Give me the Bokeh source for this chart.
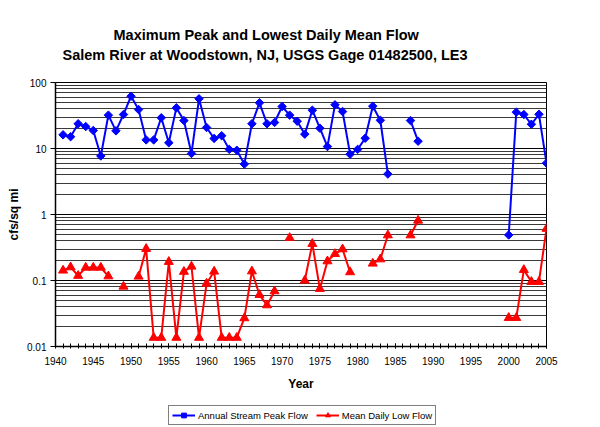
import numpy as np
from bokeh.plotting import figure
from bokeh.layouts import column
from bokeh.models import (ColumnDataSource, FixedTicker, Legend, LegendItem, Title, Range1d)
from bokeh.embed import file_html
from bokeh.resources import INLINE

N = None
years = list(range(1941, 2006))
peak_flow = [16.1, 15.1, 23.7, 21.5, 18.7, 7.7, 32, 18.5, 32.7, 62,
             38.9, 13.5, 13.5, 29.2, 12.2, 41.3, 26.5, 8.4, 56.6, 20.8,
             14.2, 15.6, 9.7, 9.4, 5.8, 23.7, 49.2, 23.7, 24.8, 43.3,
             32, 25.9, 16.5, 38, 20.3, 10.7, 45.9, 36.3, 8.2, 9.7,
             14.3, 43.8, 26.8, 4.1, N, N, 26.5, 12.9, N, N,
             N, N, N, N, N, N, N, N, N, 0.49,
             35.5, 32.7, 23.3, 33, 6.0]
low_flow = [0.142, 0.159, 0.118, 0.157, 0.157, 0.157, 0.116, N, 0.081, N,
            0.115, 0.302, 0.0136, 0.0136, 0.192, 0.0136, 0.136, 0.163, 0.0136, 0.090,
            0.137, 0.0136, 0.0136, 0.0136, 0.0269, 0.138, 0.0607, 0.0423, 0.0689, N,
            0.443, N, 0.1, 0.36, 0.0748, 0.196, 0.253, 0.298, 0.134, N,
            N, 0.181, 0.21, 0.485, N, N, 0.485, 0.81, N, N,
            N, N, N, N, N, N, N, N, N, 0.0272,
            0.0272, 0.145, 0.0955, 0.0955, 0.61]
x_ticks = list(range(1940, 2006, 5))
y_ticks = [0.01, 0.1, 1, 10, 100]
y_tick_labels = ["0.01", "0.1", "1", "10", "100"]
title_line1 = "Maximum Peak and Lowest Daily Mean Flow"
title_line2 = "Salem River at Woodstown, NJ, USGS Gage 01482500, LE3"
series_names = ["Annual Stream Peak Flow", "Mean Daily Low Flow"]

def arr(v):
    return np.array([np.nan if a is None else a for a in v], dtype=float)

src = ColumnDataSource(dict(year=years, peak=arr(peak_flow), low=arr(low_flow)))

FONT = "Liberation Sans"
BLUE, RED = "#0000FF", "#FF0000"
p = figure(frame_width=491, frame_height=264, output_backend="svg", toolbar_location=None,
           y_axis_type="log", x_range=Range1d(1940, 2005), y_range=Range1d(0.01, 100),
           min_border_left=55, min_border_right=46, min_border_top=82, min_border_bottom=56)
p.outline_line_color = "black"
p.outline_line_width = 1
p.background_fill_color = "white"

# titles (stacked from the frame outward)
p.add_layout(Title(text=" ", text_font_size="10px", standoff=5), "above")
p.add_layout(Title(text=title_line2, text_font=FONT, text_font_size="14.5px",
                   text_font_style="bold", text_color="black", align="left",
                   offset=7, standoff=4), "above")
p.add_layout(Title(text=title_line1, text_font=FONT, text_font_size="14.5px",
                   text_font_style="bold", text_color="black", align="left",
                   offset=58, standoff=0), "above")

# axes
p.xaxis.ticker = FixedTicker(ticks=x_ticks, minor_ticks=years)
p.yaxis.ticker = FixedTicker(ticks=y_ticks,
                             minor_ticks=[m * d for d in [0.01, 0.1, 1, 10] for m in range(2, 10)])
p.yaxis.major_label_overrides = {t: l for t, l in zip(y_ticks, y_tick_labels)}
for ax in (p.xaxis[0], p.yaxis[0]):
    ax.axis_line_color = "black"
    ax.axis_line_width = 1.5
    ax.major_tick_line_color = "black"
    ax.major_label_text_font = FONT
    ax.major_label_text_font_size = "10px"
    ax.major_label_text_color = "black"
    ax.axis_label_text_font = FONT
    ax.axis_label_text_font_size = "12px"
    ax.axis_label_text_font_style = "bold"
    ax.axis_label_text_color = "black"
p.xaxis.axis_label = "Year"
p.yaxis.axis_label = "cfs/sq mi"
p.xaxis.major_tick_in = 3
p.xaxis.major_tick_out = 2
p.xaxis.minor_tick_in = 3
p.xaxis.minor_tick_out = 2
p.xaxis.minor_tick_line_color = "black"
p.xaxis.major_label_standoff = 8
p.xaxis.axis_label_standoff = 9
p.yaxis.major_tick_in = 0
p.yaxis.major_tick_out = 5
p.yaxis.minor_tick_line_color = None
p.yaxis.major_label_standoff = 4
p.yaxis.axis_label_standoff = 3

# grid
p.xgrid.grid_line_color = None
p.ygrid.grid_line_color = "black"
p.ygrid.grid_line_width = 1
p.ygrid.minor_grid_line_color = "#3a3a3a"
p.ygrid.minor_grid_line_width = 1

# series
def draw_series(fig):
    a = fig.line("year", "peak", source=src, line_color=BLUE, line_width=2)
    b = fig.scatter("year", "peak", source=src, marker="square", size=6, angle=np.pi / 4,
                    fill_color=BLUE, line_color=BLUE)
    c = fig.line("year", "low", source=src, line_color=RED, line_width=2)
    d = fig.scatter("year", "low", source=src, marker="triangle", size=9,
                    fill_color=RED, line_color=RED)
    return a, b, c, d

draw_series(p)

# legend strip below the chart (its series lie outside its empty view)
lg = figure(frame_width=592, frame_height=25, output_backend="svg", toolbar_location=None,
            x_range=Range1d(0, 1), y_range=Range1d(0, 1),
            x_axis_location=None, y_axis_location=None, min_border=0)
lg.outline_line_color = None
lg.grid.grid_line_color = None
dl1, ds1, dl2, ds2 = draw_series(lg)
legend = Legend(items=[LegendItem(label=series_names[0], renderers=[dl1, ds1]),
                       LegendItem(label=series_names[1], renderers=[dl2, ds2])],
                orientation="horizontal", location=(168, 2),
                label_text_font=FONT, label_text_font_size="9.5px", label_text_color="black",
                glyph_width=23, glyph_height=12, label_height=12, label_standoff=3,
                spacing=8, padding=3, margin=0,
                border_line_color="black", border_line_width=1,
                background_fill_color="white", background_fill_alpha=1)
lg.add_layout(legend)

layout = column(p, lg, spacing=0)
open("out.html", "w").write(file_html(layout, INLINE))
